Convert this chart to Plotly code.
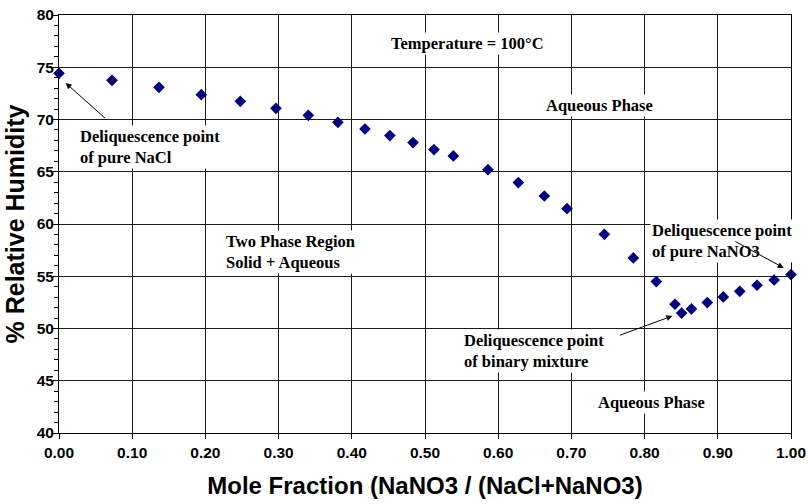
import plotly.graph_objects as go

x_frac = [0.0, 0.0724, 0.1366, 0.1944, 0.2477, 0.2964, 0.3406, 0.381, 0.418, 0.452,
          0.4836, 0.5123, 0.5387, 0.586, 0.6275, 0.663, 0.694, 0.745, 0.7846, 0.816,
          0.8415, 0.8506, 0.864, 0.8857, 0.9075, 0.930, 0.9536, 0.977, 1.0]
rh = [74.42, 73.75, 73.08, 72.38, 71.74, 71.07, 70.40, 69.73, 69.09, 68.46,
      67.79, 67.12, 66.51, 65.20, 63.96, 62.68, 61.47, 59.01, 56.75, 54.49,
      52.32, 51.48, 51.87, 52.48, 53.02, 53.56, 54.14, 54.64, 55.16]

x_ticks = [0.0, 0.1, 0.2, 0.3, 0.4, 0.5, 0.6, 0.7, 0.8, 0.9, 1.0]
x_tick_labels = ["0.00", "0.10", "0.20", "0.30", "0.40", "0.50", "0.60", "0.70", "0.80", "0.90", "1.00"]
y_ticks = [40, 45, 50, 55, 60, 65, 70, 75, 80]

fig = go.Figure()
fig.add_trace(go.Scatter(
    x=x_frac, y=rh, mode="markers",
    marker=dict(symbol="diamond", size=9, color="#000080"),
    cliponaxis=False, showlegend=False,
))

serif = "Liberation Serif, Times New Roman, serif"
ann_font = dict(family=serif, size=16.5, color="black")

annotations = [
    dict(x=0.5585, y=77.3, text="<b>Temperature = 100°C</b>", showarrow=False,
         xanchor="center", yanchor="middle", bgcolor="white", font=ann_font),
    dict(x=0.739, y=71.3, text="<b>Aqueous Phase</b>", showarrow=False,
         xanchor="center", yanchor="middle", bgcolor="white", font=ann_font),
    dict(x=0.81, y=42.95, text="<b>Aqueous Phase</b>", showarrow=False,
         xanchor="center", yanchor="middle", bgcolor="white", font=ann_font),
    dict(x=0.026, y=67.4, text="<b>Deliquescence point<br>of pure NaCl</b>", showarrow=False,
         xanchor="left", yanchor="middle", align="left", bgcolor="white", font=ann_font),
    dict(x=0.226, y=57.3, text="<b>Two Phase Region<br>Solid + Aqueous</b>", showarrow=False,
         xanchor="left", yanchor="middle", align="left", bgcolor="white", font=ann_font),
    dict(x=0.807, y=58.4, text="<b>Deliquescence point<br>of pure NaNO3</b>", showarrow=False,
         xanchor="left", yanchor="middle", align="left", bgcolor="white", font=ann_font),
    dict(x=0.551, y=47.8, text="<b>Deliquescence point<br>of binary mixture</b>", showarrow=False,
         xanchor="left", yanchor="middle", align="left", bgcolor="white", font=ann_font),
    # arrows
    dict(x=0.009, y=73.5, ax=0.065, ay=70.0, xref="x", yref="y", axref="x", ayref="y",
         text="", showarrow=True, arrowhead=2, arrowsize=1.2, arrowwidth=1, arrowcolor="black"),
    dict(x=0.99, y=55.8, ax=0.922, ay=58.4, xref="x", yref="y", axref="x", ayref="y",
         text="", showarrow=True, arrowhead=2, arrowsize=1.2, arrowwidth=1, arrowcolor="black"),
    dict(x=0.838, y=51.2, ax=0.764, ay=49.3, xref="x", yref="y", axref="x", ayref="y",
         text="", showarrow=True, arrowhead=2, arrowsize=1.2, arrowwidth=1, arrowcolor="black"),
]

sans = "Liberation Sans, Arial, sans-serif"
fig.update_layout(
    width=808, height=504,
    margin=dict(l=59, r=17, t=15, b=71),
    paper_bgcolor="white", plot_bgcolor="white",
    annotations=annotations,
    xaxis=dict(
        range=[0, 1], tickvals=x_ticks, ticktext=x_tick_labels, automargin=False,
        showgrid=True, gridcolor="#1a1a1a", gridwidth=1,
        zeroline=False, showline=True, linecolor="black", linewidth=1, mirror=True,
        ticks="outside", ticklen=5, tickcolor="black",
        tickfont=dict(family=sans, size=15.5, color="black", weight="bold"),
        title=dict(text="<b>Mole Fraction (NaNO3 / (NaCl+NaNO3)</b>",
                   font=dict(family=sans, size=24, color="black"), standoff=17),
    ),
    yaxis=dict(
        range=[40, 80], tickvals=y_ticks, automargin=False,
        showgrid=True, gridcolor="#1a1a1a", gridwidth=1,
        zeroline=False, showline=True, linecolor="black", linewidth=1, mirror=True,
        ticks="outside", ticklen=5, tickcolor="black", ticklabelstandoff=-4,
        minor=dict(dtick=1, ticks="outside", ticklen=4, tickcolor="black", showgrid=False),
        tickfont=dict(family=sans, size=15.5, color="black", weight="bold"),
        title=dict(text="<b>% Relative Humidity</b>",
                   font=dict(family=sans, size=25, color="black"), standoff=4),
    ),
)

fig.write_html("out.html")
